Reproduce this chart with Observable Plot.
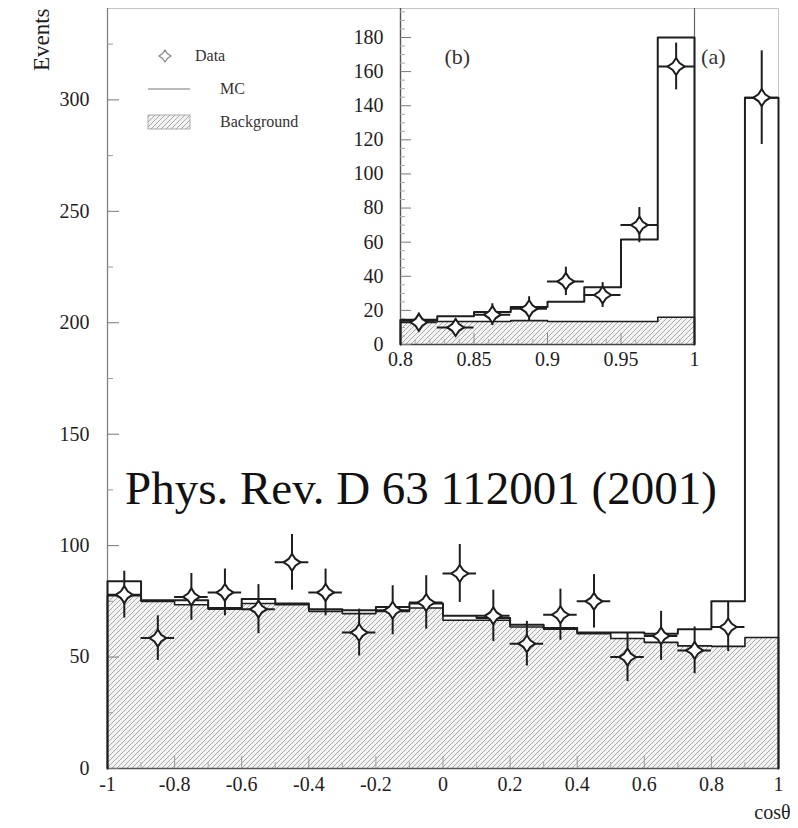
<!DOCTYPE html>
<html><head><meta charset="utf-8">
<script src="https://cdn.jsdelivr.net/npm/d3@7"></script>
<script src="https://cdn.jsdelivr.net/npm/@observablehq/plot@0.6"></script>
<style>
body{margin:0;background:#fff;}
#wrap{position:relative;width:798px;height:828px;overflow:hidden;background:#fff;}
#wrap > svg{position:absolute;}
</style></head><body><div id="wrap"></div>
<script>
// ---------- main histogram (a) ----------
const mainBinLo = [-1, -0.9, -0.8, -0.7, -0.6, -0.5, -0.4, -0.3, -0.2, -0.1, 0, 0.1, 0.2, 0.3, 0.4, 0.5, 0.6, 0.7, 0.8, 0.9];
const mainBinWidth = 0.1;
const mainData = [78, 58.5, 77, 79, 71.5, 92.5, 79, 61, 71, 74.5, 87.5, 68.5, 56, 69, 75, 50, 59.5, 53, 63.5, 301];
const mainErr  = [10.5, 10, 10.5, 10.5, 11, 12.5, 10.5, 10.5, 11, 12, 13, 11.5, 10, 11.5, 12, 11, 11, 10.5, 11, 21];
const mainMC   = [84, 75.5, 75.5, 72, 76, 74, 71.5, 71, 72.5, 74, 68.5, 67.5, 64.5, 63, 61, 61, 60.5, 62.5, 75, 301];
const mainBG   = [77.5, 75, 73.5, 71.5, 74, 73.5, 70.5, 69.5, 70.5, 72, 66.5, 66.5, 63.5, 62.5, 60.5, 58.3, 56.6, 55, 54.8, 58.8];
const mainXTicks = [-1, -0.8, -0.6, -0.4, -0.2, 0, 0.2, 0.4, 0.6, 0.8, 1];
const mainXMinor = [-0.9, -0.7, -0.5, -0.3, -0.1, 0.1, 0.3, 0.5, 0.7, 0.9];
const mainYTicks = [0, 50, 100, 150, 200, 250, 300];
const mainYMinor = [25, 75, 125, 175, 225, 275, 325];

// ---------- inset histogram (b) ----------
const insetBinLo = [0.8, 0.825, 0.85, 0.875, 0.9, 0.925, 0.95, 0.975];
const insetBinWidth = 0.025;
const insetData = [13, 10, 17.5, 21, 37, 29, 70, 163];
const insetErr  = [5.4, 5, 6.4, 7, 8.3, 7.3, 10.3, 13.7];
const insetMC   = [14.5, 16.5, 19, 22, 25, 33.5, 61.5, 180];
const insetBG   = [14, 13.5, 13.5, 14, 13.5, 13.5, 13.5, 16];
const insetXTicks = [0.8, 0.85, 0.9, 0.95, 1];
const insetXMinor = [0.81, 0.82, 0.83, 0.84, 0.86, 0.87, 0.88, 0.89, 0.91, 0.92, 0.93, 0.94, 0.96, 0.97, 0.98, 0.99];
const insetYTicks = [0, 20, 40, 60, 80, 100, 120, 140, 160, 180];
const insetYMinor = [5, 10, 15, 25, 30, 35, 45, 50, 55, 65, 70, 75, 85, 90, 95, 105, 110, 115, 125, 130, 135, 145, 150, 155, 165, 170, 175, 185, 190, 195];

const legendLabels = ["Data", "MC", "Background"];
const FONT = "Liberation Serif, Times New Roman, serif";
const INK = "#1e1e1e";

function stepLine(lo, w, vals) {
  const p = [{x: lo[0], y: 0}];
  lo.forEach((l, i) => p.push({x: l, y: vals[i]}));
  const end = lo[lo.length - 1] + w;
  p.push({x: end, y: vals[vals.length - 1]});
  p.push({x: end, y: 0});
  return p;
}
function stepArea(lo, w, vals) {
  const p = lo.map((l, i) => ({x: l, y: vals[i]}));
  p.push({x: lo[lo.length - 1] + w, y: vals[vals.length - 1]});
  return p;
}
function points(lo, w, vals, err) {
  return lo.map((l, i) => ({x: l + w / 2, x1: l, x2: l + w, y: vals[i], lo: vals[i] - err[i], hi: vals[i] + err[i]}));
}
const star4 = {
  draw(ctx, size) {
    const r = Math.sqrt(size / Math.PI), k = r * 0.4;
    ctx.moveTo(0, -r); ctx.lineTo(k, -k); ctx.lineTo(r, 0); ctx.lineTo(k, k);
    ctx.lineTo(0, r); ctx.lineTo(-k, k); ctx.lineTo(-r, 0); ctx.lineTo(-k, -k); ctx.closePath();
  }
};
function addHatch(svg, id) {
  d3.select(svg).insert("defs", ":first-child").html(
    `<pattern id="${id}" patternUnits="userSpaceOnUse" width="5" height="5">
       <rect width="5" height="5" fill="#f3f3f3"/>
       <path d="M-1,1 l2,-2 M0,5 l5,-5 M4,6 l2,-2" stroke="#a2a2a2" stroke-width="0.9"/>
     </pattern>`);
}
function fmt1(d) { return String(Math.round(d * 100) / 100); }

const mainPts = points(mainBinLo, mainBinWidth, mainData, mainErr);

const main = Plot.plot({
  width: 798, height: 828,
  marginLeft: 107, marginRight: 20, marginTop: 8, marginBottom: 60,
  x: {domain: [-1, 1]},
  y: {domain: [0, 341]},
  style: {fontFamily: FONT, fontSize: "20px", background: "white", color: INK},
  marks: [
    Plot.areaY(stepArea(mainBinLo, mainBinWidth, mainBG), {x: "x", y: "y", curve: "step-after", fill: "url(#hatchMain)"}),
    Plot.frame({stroke: "#c4c4c4"}),
    Plot.ruleX([-1], {stroke: "#808080", strokeWidth: 1.3}),
    Plot.ruleY([0], {stroke: "#555", strokeWidth: 1.3}),
    Plot.axisY(mainYTicks, {tickSize: -12, tickFormat: () => "", stroke: "#777", label: null}),
    Plot.axisY(mainYMinor, {tickSize: -6, tickFormat: () => "", stroke: "#999", label: null}),
    Plot.axisY(mainYTicks, {tickSize: 0, tickPadding: 18, tickFormat: d => String(d), fontSize: 20, fill: INK, label: null}),
    Plot.axisX(mainXTicks, {tickSize: -12, tickFormat: () => "", stroke: "#999", label: null}),
    Plot.axisX(mainXMinor, {tickSize: -6, tickFormat: () => "", stroke: "#aaa", label: null}),
    Plot.axisX(mainXTicks, {tickSize: 0, tickPadding: 8, tickFormat: fmt1, fontSize: 20, fill: INK, label: null}),
    Plot.lineY(stepLine(mainBinLo, mainBinWidth, mainBG), {x: "x", y: "y", curve: "step-after", stroke: INK, strokeWidth: 1.6}),
    Plot.lineY(stepLine(mainBinLo, mainBinWidth, mainMC), {x: "x", y: "y", curve: "step-after", stroke: INK, strokeWidth: 2}),
    Plot.ruleX(mainPts, {x: "x", y1: "lo", y2: "hi", stroke: INK, strokeWidth: 2}),
    Plot.ruleY(mainPts, {y: "y", x1: "x1", x2: "x2", stroke: INK, strokeWidth: 2}),
    Plot.dot(mainPts, {x: "x", y: "y", r: 8.5, symbol: star4, fill: "white", stroke: INK, strokeWidth: 2}),
    Plot.text(["Events"], {frameAnchor: "top-left", dx: -66, dy: 0, rotate: -90, textAnchor: "end", lineAnchor: "middle", fontSize: 23, fill: INK}),
    Plot.text(["cosθ"], {frameAnchor: "bottom-right", dx: 12, dy: 50, textAnchor: "end", fontSize: 20, fill: INK}),
    Plot.text(["(a)"], {frameAnchor: "top-right", dx: -53, dy: 40, fontSize: 22, fill: "#333"}),
    Plot.text(["Phys. Rev. D 63 112001 (2001)"], {frameAnchor: "middle", dx: -22, dy: 100, fontSize: 47, fill: "#111"})
  ]
});
addHatch(main, "hatchMain");
main.style.left = "0px"; main.style.top = "0px";
document.getElementById("wrap").appendChild(main);

// ---------- inset ----------
const insetPts = points(insetBinLo, insetBinWidth, insetData, insetErr);
const inset = Plot.plot({
  width: 355, height: 385,
  marginLeft: 55, marginRight: 6, marginTop: 8, marginBottom: 41,
  x: {domain: [0.8, 1]},
  y: {domain: [0, 197]},
  style: {fontFamily: FONT, fontSize: "20px", background: "transparent", color: INK},
  marks: [
    Plot.areaY(stepArea(insetBinLo, insetBinWidth, insetBG), {x: "x", y: "y", curve: "step-after", fill: "url(#hatchInset)"}),
    Plot.ruleX([0.8], {stroke: "#555", strokeWidth: 1.4}),
    Plot.ruleX([1], {stroke: "#666", strokeWidth: 1.2}),
    Plot.ruleY([0], {stroke: "#444", strokeWidth: 1.4}),
    Plot.axisY(insetYTicks, {tickSize: -11, tickFormat: () => "", stroke: "#777", label: null}),
    Plot.axisY(insetYMinor, {tickSize: -5, tickFormat: () => "", stroke: "#aaa", label: null}),
    Plot.axisY(insetYTicks, {tickSize: 0, tickPadding: 17, tickFormat: d => String(d), fontSize: 20, fill: INK, label: null}),
    Plot.axisX(insetXTicks, {tickSize: -11, tickFormat: () => "", stroke: "#888", label: null}),
    Plot.axisX(insetXMinor, {tickSize: -5, tickFormat: () => "", stroke: "#aaa", label: null}),
    Plot.axisX(insetXTicks, {tickSize: 0, tickPadding: 7, tickFormat: fmt1, fontSize: 20, fill: INK, label: null}),
    Plot.lineY(stepLine(insetBinLo, insetBinWidth, insetBG), {x: "x", y: "y", curve: "step-after", stroke: INK, strokeWidth: 1.6}),
    Plot.lineY(stepLine(insetBinLo, insetBinWidth, insetMC), {x: "x", y: "y", curve: "step-after", stroke: INK, strokeWidth: 2}),
    Plot.ruleX(insetPts, {x: "x", y1: "lo", y2: "hi", stroke: INK, strokeWidth: 2}),
    Plot.ruleY(insetPts, {y: "y", x1: "x1", x2: "x2", stroke: INK, strokeWidth: 2}),
    Plot.dot(insetPts, {x: "x", y: "y", r: 8.5, symbol: star4, fill: "white", stroke: INK, strokeWidth: 2}),
    Plot.text(["(b)"], {frameAnchor: "top-left", dx: 44, dy: 40, fontSize: 22, fill: "#333"})
  ]
});
addHatch(inset, "hatchInset");
inset.style.left = "345px"; inset.style.top = "0px";
document.getElementById("wrap").appendChild(inset);

// ---------- legend ----------
const leg = d3.create("svg").attr("width", 200).attr("height", 100)
  .style("left", "140px").style("top", "40px").style("font-family", FONT);
leg.append("defs").html(`<pattern id="hatchLeg" patternUnits="userSpaceOnUse" width="5" height="5">
  <rect width="5" height="5" fill="#f3f3f3"/>
  <path d="M-1,1 l2,-2 M0,5 l5,-5 M4,6 l2,-2" stroke="#a0a0a0" stroke-width="0.9"/></pattern>`);
leg.append("path").attr("transform", "translate(25,16)")
  .attr("d", d3.symbol(star4, Math.PI * 36)()).attr("fill", "white").attr("stroke", "#888").attr("stroke-width", 1.2);
leg.append("line").attr("x1", 8).attr("x2", 50).attr("y1", 49).attr("y2", 49).attr("stroke", "#777").attr("stroke-width", 1);
leg.append("rect").attr("x", 8).attr("y", 75).attr("width", 42).attr("height", 14)
  .attr("fill", "url(#hatchLeg)").attr("stroke", "#999").attr("stroke-width", 0.8);
const legPos = [[55, 16], [80, 49], [80, 82]];
legendLabels.forEach((t, i) => {
  leg.append("text").attr("x", legPos[i][0]).attr("y", legPos[i][1]).attr("dy", "0.32em")
    .attr("font-size", 16).attr("fill", "#333").text(t);
});
document.getElementById("wrap").appendChild(leg.node());
</script></body></html>
